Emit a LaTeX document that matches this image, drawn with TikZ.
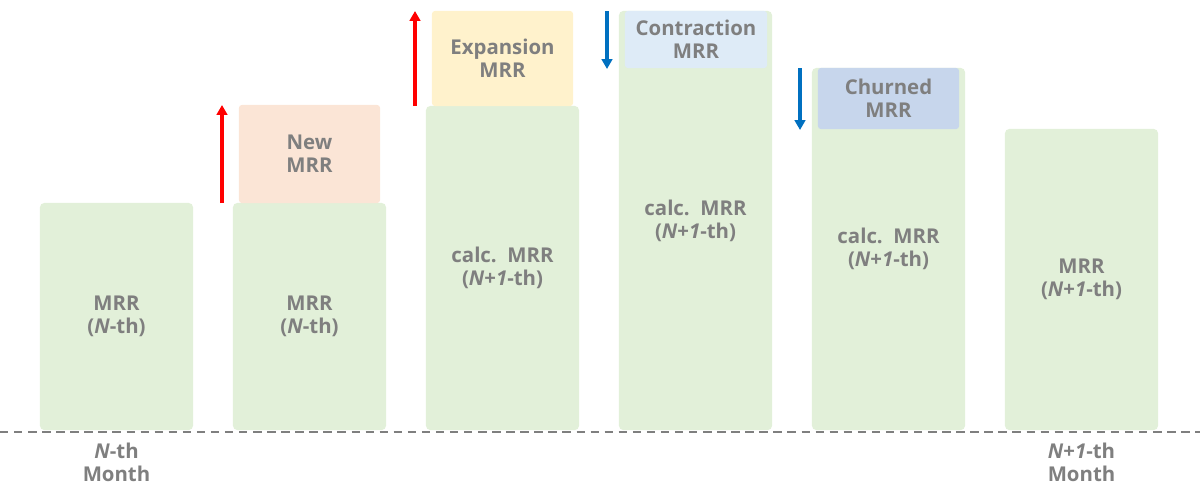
\documentclass[tikz,border=0pt]{standalone}
\usepackage{fontspec}
\setmainfont{Open Sans}
\usetikzlibrary{arrows.meta}
\definecolor{barg}{HTML}{E2F0D9}
\definecolor{newc}{HTML}{FBE5D6}
\definecolor{expc}{HTML}{FFF2CC}
\definecolor{conc}{HTML}{DEEBF7}
\definecolor{chuc}{HTML}{C7D6EC}
\definecolor{txt}{HTML}{7F7F7F}
\definecolor{upred}{HTML}{FF0000}
\definecolor{dnblue}{HTML}{0070C0}
\newcommand{\NN}{\textit{N}}
\newcommand{\one}{\textit{1}}
\tikzset{
  lbl/.style={text=txt, font=\bfseries\fontsize{14.5}{16.5}\selectfont, align=center},
  bar/.style={lbl, fill=barg, rounded corners=3pt, minimum width=3.825cm, inner sep=0pt},
  topbox/.style={lbl, rounded corners=2pt, minimum width=3.525cm, inner sep=0pt},
  uparr/.style={draw=upred, line width=2.2pt, -{Triangle[length=7pt,width=7.5pt]}},
  dnarr/.style={draw=dnblue, line width=2.2pt, -{Triangle[length=7pt,width=7.5pt]}},
}
\begin{document}
\begin{tikzpicture}[x=0.025cm,y=-0.025cm]
\useasboundingbox (0,0) rectangle (1200,495);
% bars
\node[bar, minimum height=5.675cm] (b1) at (116.5,316.5) {MRR\\(\NN-th)};
\node[bar, minimum height=5.675cm] (b2) at (309.5,316.5) {MRR\\(\NN-th)};
\node[bar, minimum height=8.1cm] (b3) at (502.5,268) {calc.\ \ MRR\\(\NN+\one-th)};
\node[bar, minimum height=10.475cm] (b4) at (695.5,220.5) {calc.\ \ MRR\\(\NN+\one-th)};
\node[bar, minimum height=9.05cm] (b5) at (888.5,249) {calc.\ \ MRR\\(\NN+\one-th)};
\node[bar, minimum height=7.525cm] (b6) at (1081.5,279.5) {MRR\\(\NN+\one-th)};
% top boxes
\node[topbox, fill=newc, minimum height=2.45cm] (nw) at (309.5,154) {New\\MRR};
\node[topbox, fill=expc, minimum height=2.375cm] (ex) at (502.5,58.5) {Expansion\\MRR};
\node[topbox, fill=conc, minimum height=1.425cm, minimum width=3.55cm] (co) at (696,39.5) {Contraction\\MRR};
\node[topbox, fill=chuc, minimum height=1.525cm] (ch) at (888.5,98.5) {Churned\\MRR};
% baseline
\coordinate (l0) at (0,432);
\coordinate (l1) at (1200,432);
\draw[txt, line width=1.5pt, dash pattern=on 6pt off 4pt] (l0) -- (l1);
% month labels
\node[lbl] (m1) at (116.5,462) {\NN-th\\Month};
\node[lbl] (m2) at (1081.5,462) {\NN+\one-th\\Month};
% arrows
\coordinate (a1s) at (222,203); \coordinate (a1e) at (222,105);
\coordinate (a2s) at (415,106); \coordinate (a2e) at (415,11);
\coordinate (a3s) at (607,11); \coordinate (a3e) at (607,69);
\coordinate (a4s) at (800,68); \coordinate (a4e) at (800,130);
\draw[uparr] (a1s) -- (a1e);
\draw[uparr] (a2s) -- (a2e);
\draw[dnarr] (a3s) -- (a3e);
\draw[dnarr] (a4s) -- (a4e);
\end{tikzpicture}
\end{document}
